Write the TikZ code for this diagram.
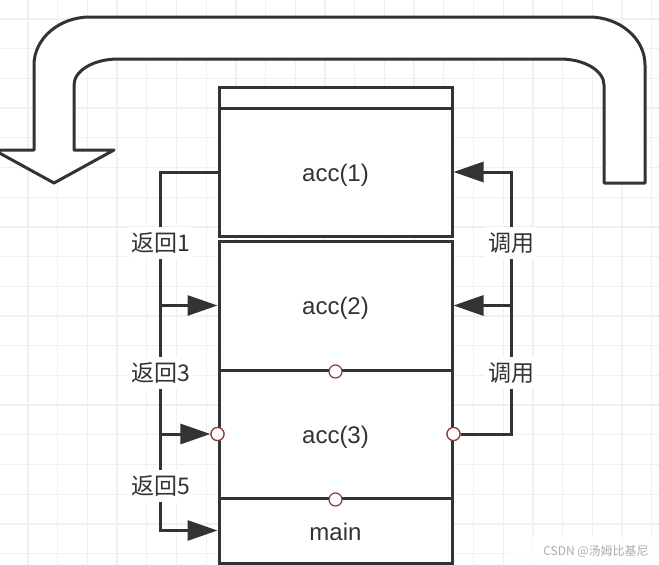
\documentclass[tikz,border=0pt]{standalone}
\usepackage{fontspec}
\setmainfont{Liberation Sans}
\newfontfamily\cjk{Noto Sans CJK SC}
\usetikzlibrary{arrows.meta}
\definecolor{ink}{HTML}{333333}
\definecolor{dotred}{HTML}{8B3A3A}
\definecolor{gridc}{HTML}{F0F0F0}
\begin{document}
\begin{tikzpicture}[x=1pt,y=-1pt,
  box/.style={draw=ink, line width=3pt, fill=white, minimum width=233pt, inner sep=0pt},
  txt/.style={text=ink, inner sep=0pt, font=\fontsize{24}{28}\selectfont},
  wire/.style={draw=ink, line width=3pt},
  arr/.style={wire, -{Triangle[length=30pt,width=20pt]}},
  lbl/.style={fill=white, text=ink, inner xsep=3pt, inner ysep=6pt, font=\cjk\fontsize{23}{27}\selectfont},
  dot/.style={circle, draw=dotred, fill=white, line width=1.2pt, minimum size=13pt, inner sep=0pt},
  gridline/.style={draw=gridc, line width=1.3pt}]
\useasboundingbox (0,0) rectangle (659,565);
\fill[white] (0,0) rectangle (659,565);
% background grid
\foreach \i in {0,...,21} \draw[gridline] ({28+29.7*\i},0) -- ({28+29.7*\i},565);
\foreach \j in {0,...,18} \draw[gridline] (0,{19+29.7*\j}) -- (659,{19+29.7*\j});
% big U-turn arrow
\draw[ink, line width=3pt, fill=white, line join=round]
  (54,183) -- (114,150) -- (74,150) -- (74,85)
  .. controls (74,70.6) and (93.7,59) .. (118,59)
  -- (560,59)
  .. controls (584.3,59) and (604,70.6) .. (604,85)
  -- (604,183) -- (645,183) -- (645,65)
  .. controls (645,38.5) and (619.9,17) .. (589,17)
  -- (90,17)
  .. controls (59.1,17) and (34,38.5) .. (34,65)
  -- (34,150) -- (-6,150) -- cycle;
% stack
\node[box, minimum height=21pt] (top) at (335.5,97.5) {};
\node[box, minimum height=128pt] (acc1) at (335.5,172) {};
\node[box, minimum height=129pt] (acc2) at (335.5,305.5) {};
\node[box, minimum height=128pt] (acc3) at (335.5,434) {};
\node[box, minimum height=65pt] (main) at (335.5,530.5) {};
\node[txt] (t1) at (335.5,175) {acc(1)};
\node[txt] (t2) at (335.5,308) {acc(2)};
\node[txt] (t3) at (335.5,437) {acc(3)};
\node[txt] (tm) at (335.5,532) {main};
% connection dots
\node[dot] (c2) at (acc2.south) {};
\node[dot] (c3) at (acc3.south) {};
\node[dot] (c3l) at (acc3.west) {};
\node[dot] (c3r) at (acc3.east) {};
% left: returns
\coordinate (lb) at (160,530.5);
\draw[arr] (acc1.west) -| (lb) -- (main.west);
\draw[arr] (acc2.west -| lb) -- (acc2.west);
\draw[arr] (c3l -| lb) -- (c3l);
% right: calls
\coordinate (rb) at (511,434);
\draw[arr] (c3r) -- (rb) |- (acc1.east);
\draw[arr] (acc2.east -| rb) -- (acc2.east);
% redraw dots on top
\node[dot] at (c3l) {};
\node[dot] at (c3r) {};
% labels
\node[lbl] (r1) at (161,243) {返回1};
\node[lbl] (r3) at (161,373) {返回3};
\node[lbl] (r5) at (161,486) {返回5};
\node[lbl] (u1) at (511,243) {调用};
\node[lbl] (u2) at (511,373) {调用};
% watermark
\fill[white, opacity=0.8] (508,535) rectangle (659,565);
\node[text=gray!65, font=\cjk\fontsize{12}{14}\selectfont, inner sep=0pt] (wm) at (596,551) {CSDN @汤姆比基尼};
\end{tikzpicture}
\end{document}
